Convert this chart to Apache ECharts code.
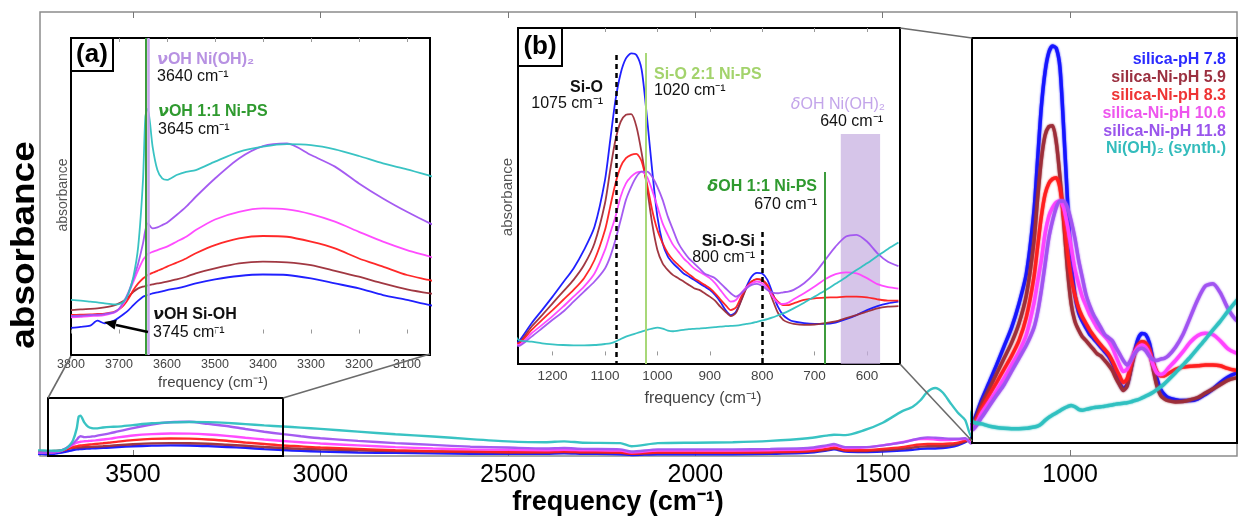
<!DOCTYPE html>
<html><head><meta charset="utf-8">
<script src="https://cdn.jsdelivr.net/npm/echarts@6/dist/echarts.min.js"></script>
<style>html,body{margin:0;padding:0;background:#fff}#c{width:1238px;height:520px}</style>
</head><body><div id="c"></div>
<script>
// ---------- DATA ----------
const freqHigh = [3800,3780,3760,3745,3730,3710,3700,3690,3680,3670,3660,3650,3645,3640,3630,3620,3610,3600,3580,3560,3540,3500,3450,3400,3350,3300,3250,3200,3150,3100,3052];
const freqMid = [3000,2900,2800,2700,2600,2500,2400,2350,2300,2200,2170,2100,2000,1900,1800,1700,1650,1630,1600,1550,1500,1450,1420,1400,1380,1360,1340,1320,1300,1280];
const freqLow = [1265,1240,1220,1200,1180,1160,1140,1120,1100,1090,1080,1070,1060,1050,1040,1030,1020,1010,1000,990,980,970,960,950,940,930,920,910,900,890,880,870,860,850,840,830,820,810,800,790,780,770,760,750,740,720,700,680,660,640,620,600,580,560,540];

const seriesNames = ['silica-pH 7.8','silica-Ni-pH 5.9','silica-Ni-pH 8.3','silica-Ni-pH 10.6','silica-Ni-pH 11.8','Ni(OH)\u2082 (synth.)'];

const blueHigh = [.0023,.0027,.0032,.0052,.0041,.0052,.0065,.0079,.0095,.0115,.0133,.0149,.0153,.0156,.0163,.0167,.0171,.0176,.0183,.0192,.0203,.0219,.0233,.0239,.0237,.0223,.0203,.0183,.0156,.0136,.0115];
const blueMid = [.010,.008,.007,.006,.005,.005,.005,.006,.005,.004,.002,.004,.004,.004,.005,.007,.012,.015,.010,.009,.010,.012,.014,.016,.017,.017,.018,.020,.024,.031];
const blueLow = [.041,.096,.135,.175,.217,.259,.314,.383,.522,.641,.760,.840,.884,.899,.894,.850,.711,.552,.413,.334,.294,.274,.259,.244,.235,.225,.215,.205,.195,.180,.160,.135,.120,.130,.165,.205,.235,.246,.244,.225,.185,.145,.120,.108,.101,.096,.094,.094,.098,.108,.120,.135,.147,.155,.160];

const brownHigh = [.0095,.0098,.0100,.0102,.0106,.0114,.0122,.0133,.0149,.0169,.0183,.0190,.0192,.0195,.0199,.0203,.0206,.0210,.0219,.0230,.0244,.0264,.0284,.0291,.0288,.0277,.0254,.0230,.0203,.0179,.0163];
const brownMid = [.015,.013,.011,.010,.009,.008,.008,.009,.008,.007,.005,.007,.007,.007,.008,.010,.014,.017,.012,.011,.013,.016,.019,.021,.022,.022,.022,.024,.027,.033];
const brownLow = [.036,.086,.120,.155,.190,.225,.269,.334,.453,.552,.641,.696,.716,.718,.681,.602,.502,.393,.314,.274,.254,.239,.230,.220,.210,.200,.195,.185,.175,.163,.145,.130,.117,.127,.163,.200,.220,.227,.223,.205,.165,.127,.106,.098,.094,.091,.092,.096,.101,.111,.120,.130,.140,.145,.147];

const redHigh = [.0075,.0076,.0077,.0079,.0081,.0088,.0098,.0115,.0142,.0176,.0203,.0223,.0230,.0237,.0246,.0254,.0262,.0271,.0287,.0304,.0325,.0358,.0385,.0395,.0392,.0372,.0345,.0304,.0271,.0237,.0216];
const redMid = [.019,.016,.013,.011,.010,.009,.009,.010,.009,.008,.005,.008,.008,.008,.009,.011,.016,.019,.013,.013,.016,.020,.024,.026,.027,.027,.027,.028,.030,.035];
const redLow = [.036,.076,.106,.135,.165,.195,.230,.284,.373,.443,.512,.562,.587,.597,.600,.577,.512,.433,.373,.334,.304,.284,.269,.254,.242,.230,.220,.210,.200,.185,.167,.150,.135,.143,.175,.203,.220,.227,.225,.210,.180,.160,.150,.150,.155,.165,.170,.172,.173,.175,.175,.173,.167,.163,.163];

const magentaHigh = [.0065,.0068,.0071,.0072,.0075,.0084,.0098,.0122,.0163,.0210,.0257,.0298,.0311,.0322,.0331,.0338,.0345,.0352,.0372,.0392,.0419,.0462,.0493,.0507,.0503,.0484,.0453,.0412,.0372,.0338,.0311];
const magentaMid = [.028,.024,.020,.017,.015,.014,.013,.014,.013,.012,.008,.012,.012,.012,.013,.015,.021,.024,.018,.019,.024,.031,.036,.038,.038,.037,.036,.036,.037,.039];
const magentaLow = [.031,.066,.091,.117,.145,.175,.205,.244,.314,.364,.413,.473,.512,.532,.544,.547,.532,.492,.443,.393,.359,.329,.309,.289,.274,.259,.249,.240,.230,.215,.195,.175,.160,.165,.185,.203,.215,.220,.215,.200,.175,.157,.153,.157,.167,.185,.205,.227,.242,.247,.244,.230,.212,.203,.199];

const purpleHigh = [.0071,.0072,.0075,.0076,.0079,.0087,.0100,.0129,.0169,.0223,.0284,.0365,.0419,.0446,.0426,.0430,.0439,.0449,.0480,.0514,.0554,.0628,.0709,.0759,.0770,.0723,.0676,.0608,.0547,.0493,.0446];
const purpleMid = [.040,.034,.029,.025,.021,.019,.017,.018,.016,.015,.010,.015,.015,.015,.016,.018,.024,.027,.020,.020,.024,.030,.036,.040,.042,.041,.040,.039,.039,.040];
const purpleLow = [.028,.056,.081,.106,.130,.160,.190,.220,.259,.294,.344,.403,.463,.502,.532,.547,.547,.532,.502,.463,.413,.373,.334,.309,.289,.274,.259,.244,.237,.230,.215,.200,.185,.175,.185,.200,.210,.213,.207,.195,.187,.185,.188,.190,.195,.215,.244,.284,.324,.354,.359,.339,.304,.279,.266];

const cyanHigh = [.0136,.0133,.0129,.0126,.0122,.0118,.0119,.0129,.0163,.0230,.0352,.0622,.088,.091,.0757,.0662,.0628,.0622,.0642,.0655,.0662,.0696,.0736,.0757,.0767,.0763,.0746,.0719,.0689,.0665,.0639];
const cyanMid = [.061,.055,.049,.044,.038,.033,.031,.033,.030,.029,.022,.029,.030,.031,.034,.040,.046,.048,.047,.058,.075,.100,.111,.125,.145,.153,.143,.120,.098,.081];
const cyanLow = [.046,.041,.036,.033,.031,.030,.030,.031,.034,.036,.041,.049,.056,.061,.066,.071,.076,.080,.083,.080,.074,.072,.074,.076,.078,.079,.080,.081,.083,.084,.086,.087,.088,.089,.091,.094,.096,.100,.104,.108,.113,.119,.125,.132,.140,.157,.175,.193,.213,.233,.254,.274,.296,.317,.336];

const mainTicks = [3500,3000,2500,2000,1500,1000];
const insetATicks = [3800,3700,3600,3500,3400,3300,3200,3100];
const insetBTicks = [1200,1100,1000,900,800,700,600];

// ---------- STYLE ----------
const FONT = '"Liberation Sans", Arial, Helvetica, sans-serif';
const colors = ['#1414ff','#9c2d38','#ff1e1e','#ff42ff','#a052f0','#2ec0c0'];
const legendColors = ['#2b2bff','#9b3040','#ee3434','#ee55ee','#9a55ec','#33bcbc'];
const highs = [blueHigh,brownHigh,redHigh,magentaHigh,purpleHigh,cyanHigh];
const mids = [blueMid,brownMid,redMid,magentaMid,purpleMid,cyanMid];
const lows = [blueLow,brownLow,redLow,magentaLow,purpleLow,cyanLow];

function combine(h,m,l){
  const d=[];
  freqHigh.forEach((f,i)=>d.push([f,h[i]]));
  freqMid.forEach((f,i)=>d.push([f,m[i]]));
  freqLow.forEach((f,i)=>d.push([f,l[i]]));
  return d;
}
const fullData = highs.map((h,i)=>combine(h,mids[i],lows[i]));

const chart = echarts.init(document.getElementById('c'), null, {renderer:'canvas'});
const plain = v => String(v);

function bottomAxis(g,min,max,ticks,fs,color,margin,tickLen,tickColor){
  return {gridIndex:g,type:'value',inverse:true,min:min,max:max,position:'bottom',
    axisLine:{show:false},splitLine:{show:false},
    axisTick:{show:true,inside:true,length:tickLen,customValues:ticks,lineStyle:{color:tickColor,width:1}},
    axisLabel:{show:true,customValues:ticks,formatter:plain,fontSize:fs,color:color,margin:margin,fontFamily:FONT}};
}
function topAxis(g,min,max,ticks,tickLen,tickColor){
  return {gridIndex:g,type:'value',inverse:true,min:min,max:max,position:'top',
    axisLine:{show:false},splitLine:{show:false},
    axisTick:{show:true,inside:true,length:tickLen,customValues:ticks,lineStyle:{color:tickColor,width:1}},
    axisLabel:{show:false}};
}

const xAxes = [
  bottomAxis(0,555,3748,mainTicks,25,'#000',7,6,'#777'),
  topAxis(0,555,3748,mainTicks,6,'#777'),
  bottomAxis(1,3052,3800,insetATicks,12.5,'#444',3,4,'#999'),
  topAxis(1,3052,3800,insetATicks,4,'#999'),
  bottomAxis(2,537,1266,insetBTicks,13.5,'#444',5,4,'#999'),
  topAxis(2,537,1266,insetBTicks,4,'#999'),
  {gridIndex:3,type:'value',inverse:true,min:555,max:1266,show:false}
];
const yAxes = [
  {gridIndex:0,type:'value',min:0,max:1,show:false},
  {gridIndex:1,type:'value',min:-0.0087,max:0.1197,show:false},
  {gridIndex:2,type:'value',min:-0.0255,max:0.9745,show:false},
  {gridIndex:3,type:'value',min:-0.0023,max:0.9171,show:false}
];

const series = [];
const gridCfg = [
  {xi:0,yi:0,w:2.4,z:2},
  {xi:2,yi:1,w:1.8,z:3},
  {xi:4,yi:2,w:1.8,z:3},
  {xi:6,yi:3,w:3.5,z:12}
];
gridCfg.forEach((gc,gi)=>{
  fullData.forEach((d,si)=>{
    const s = {type:'line',name:seriesNames[si],xAxisIndex:gc.xi,yAxisIndex:gc.yi,data:d,
      showSymbol:false,symbol:'none',smooth:0.25,clip:true,silent:true,animation:false,z:gc.z,
      lineStyle:{color:colors[si],width:gc.w,opacity:0.95}};
    if(gi===3){ s.lineStyle.shadowBlur=2; s.lineStyle.shadowColor=colors[si]; }
    series.push(s);
  });
});

// marker lines on inset (a)
series[6].markLine = {silent:true,symbol:'none',animation:false,label:{show:false},
  data:[{xAxis:3645,lineStyle:{color:'#3d9c3d',width:2,type:'solid'}},
        {xAxis:3640,lineStyle:{color:'#c6a6ea',width:2.5,type:'solid'}}]};
// marker lines / band on inset (b)
series[12].markLine = {silent:true,symbol:'none',animation:false,label:{show:false},
  data:[
    [{coord:[1078,0.894],lineStyle:{color:'#000',width:2.5,type:[5,4]}},{coord:[1078,-0.0255]}],
    [{coord:[800,0.367],lineStyle:{color:'#000',width:2.5,type:[5,4]}},{coord:[800,-0.0255]}],
    [{coord:[1022,0.900],lineStyle:{color:'#a8d878',width:2,type:'solid'}},{coord:[1022,-0.0255]}],
    [{coord:[680,0.546],lineStyle:{color:'#3d9c3d',width:2,type:'solid'}},{coord:[680,-0.0255]}]
  ]};
series[12].markArea = {silent:true,animation:false,itemStyle:{color:'rgba(196,172,224,0.7)'},
  data:[[{coord:[650,0.659]},{coord:[575,-0.0255]}]]};

function txt(x,y,text,o){
  o=o||{};
  const el = {type:'text',x:x,y:y,z:o.z||40,rotation:o.rot||0,
    style:{text:text,fill:o.fill||'#111',fontSize:o.fs||16,fontWeight:o.fw||'normal',fontFamily:FONT,
      align:o.align||'left',verticalAlign:'middle',textAlign:o.align||'left',textVerticalAlign:'middle',
      rich:o.rich}};
  if(o.sx){ el.scaleX=o.sx; }
  return el;
}
function italicRich(color,fs,fw){
  return {i:{fontStyle:'italic',fontWeight:fw,fontSize:fs,fill:color,fontFamily:'"DejaVu Sans", "Liberation Sans", sans-serif'},
          n:{fontWeight:fw,fontSize:fs,fill:color,fontFamily:FONT}};
}
const lineStyleG = {stroke:'#6b6b6b',lineWidth:1.6};

const graphics = [
  // white cover for zoom panel
  {type:'rect',z:10,shape:{x:972,y:38,width:265,height:405},style:{fill:'#fff'}},
  {type:'rect',z:30,shape:{x:972,y:38,width:265,height:405},style:{fill:null,stroke:'#000',lineWidth:2}},
  // small box in main plot
  {type:'rect',z:30,shape:{x:48,y:398,width:235,height:58},style:{fill:null,stroke:'#000',lineWidth:2}},
  // connectors
  {type:'line',z:30,shape:{x1:48,y1:398,x2:71,y2:356},style:lineStyleG},
  {type:'line',z:30,shape:{x1:283,y1:398,x2:430,y2:354},style:lineStyleG},
  {type:'line',z:30,shape:{x1:900,y1:28,x2:972,y2:38},style:lineStyleG},
  {type:'line',z:30,shape:{x1:900,y1:364,x2:972,y2:441},style:lineStyleG},
  // (a) (b) label boxes
  {type:'rect',z:35,shape:{x:71,y:38,width:42,height:33},style:{fill:'#fff',stroke:'#000',lineWidth:2}},
  txt(92,55,'(a)',{fs:26,fw:'bold',align:'center',fill:'#000'}),
  {type:'rect',z:35,shape:{x:518,y:28,width:44,height:38},style:{fill:'#fff',stroke:'#000',lineWidth:2}},
  txt(540,47,'(b)',{fs:26,fw:'bold',align:'center',fill:'#000'}),
  // arrow in inset a
  {type:'line',z:40,shape:{x1:148,y1:332,x2:116,y2:325},style:{stroke:'#000',lineWidth:2.5}},
  {type:'polygon',z:40,shape:{points:[[104,322],[114.6,329.6],[116.8,319.8]]},style:{fill:'#000'}},
  // main axis titles
  txt(25,245,'absorbance',{fs:33,fw:'bold',align:'center',rot:Math.PI/2,fill:'#000',sx:1.12}),
  txt(618,503,'frequency (cm\u207B\u00B9)',{fs:27,fw:'bold',align:'center',fill:'#000'}),
  // inset a titles
  txt(63,195,'absorbance',{fs:14,align:'center',rot:Math.PI/2,fill:'#555'}),
  txt(213,383,'frequency (cm\u207B\u00B9)',{fs:15,align:'center',fill:'#444'}),
  // inset b titles
  txt(508,197,'absorbance',{fs:15,align:'center',rot:Math.PI/2,fill:'#555'}),
  txt(703,399,'frequency (cm\u207B\u00B9)',{fs:16,align:'center',fill:'#444'}),
  // inset a annotations
  txt(157,60,'{i|\u03BD}{n|OH Ni(OH)\u2082}',{rich:italicRich('#b791e2',16,'bold')}),
  txt(157,77,'3640 cm\u207B\u00B9',{fs:16}),
  txt(158,112,'{i|\u03BD}{n|OH 1:1 Ni-PS}',{rich:italicRich('#2f9a2f',16,'bold')}),
  txt(158,130,'3645 cm\u207B\u00B9',{fs:16}),
  txt(153,315,'{i|\u03BD}{n|OH Si-OH}',{rich:italicRich('#111',16,'bold')}),
  txt(153,333,'3745 cm\u207B\u00B9',{fs:16}),
  // inset b annotations
  txt(603,88,'Si-O',{fs:16,fw:'bold',align:'right'}),
  txt(603,104,'1075 cm\u207B\u00B9',{fs:16,align:'right'}),
  txt(654,75,'Si-O 2:1 Ni-PS',{fs:16,fw:'bold',fill:'#a3d36c'}),
  txt(654,91,'1020 cm\u207B\u00B9',{fs:16}),
  txt(885,105,'{i|\u03B4}{n|OH Ni(OH)\u2082}',{align:'right',rich:italicRich('#c3a5ea',16,'normal')}),
  txt(883,122,'640 cm\u207B\u00B9',{fs:16,align:'right'}),
  txt(817,187,'{i|\u03B4}{n|OH 1:1 Ni-PS}',{align:'right',rich:italicRich('#2f9a2f',16,'bold')}),
  txt(817,205,'670 cm\u207B\u00B9',{fs:16,align:'right'}),
  txt(755,242,'Si-O-Si',{fs:16,fw:'bold',align:'right'}),
  txt(755,258,'800 cm\u207B\u00B9',{fs:16,align:'right'})
];
// legend inside zoom panel
seriesNames.forEach((n,i)=>{
  graphics.push(txt(1226,60+i*17.8,n,{fs:16,fw:'bold',align:'right',fill:legendColors[i]}));
});

chart.setOption({
  animation:false,
  backgroundColor:'#fff',
  grid:[
    {left:40,top:12,width:1197,height:444,show:true,borderColor:'#8c8c8c',borderWidth:1.5,backgroundColor:'transparent'},
    {left:71,top:38,width:359,height:317,show:true,borderColor:'#000',borderWidth:2,backgroundColor:'#fff'},
    {left:518,top:28,width:382,height:336,show:true,borderColor:'#000',borderWidth:2,backgroundColor:'#fff'},
    {left:972,top:38,width:265,height:405,show:false}
  ],
  xAxis:xAxes,
  yAxis:yAxes,
  series:series,
  graphic:{elements:graphics}
});
</script></body></html>
